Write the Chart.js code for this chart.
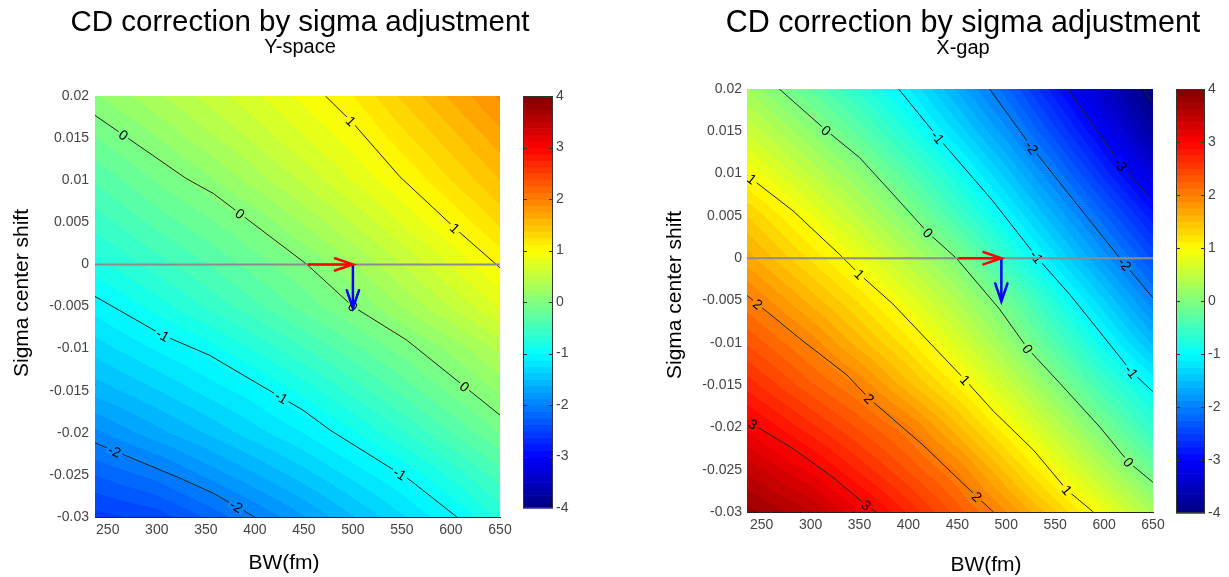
<!DOCTYPE html>
<html>
<head>
<meta charset="utf-8">
<title>CD correction by sigma adjustment</title>
<script src="https://cdn.jsdelivr.net/npm/chart.js@4.4.1/dist/chart.umd.min.js"></script>
<style>
  body { margin: 0; background: #fff; width: 1229px; height: 577px; overflow: hidden; position: relative; }
  canvas { position: absolute; }
</style>
</head>
<body>
<canvas id="ySpace" width="560" height="577" style="left:0;top:0"></canvas>
<canvas id="xGap" width="589" height="577" style="left:640px;top:0"></canvas>
<canvas id="ySpaceBar" width="80" height="450" style="left:505px;top:80px"></canvas>
<canvas id="xGapBar" width="71" height="460" style="left:1158px;top:73px"></canvas>
<script>
Chart.defaults.font.family = "'Liberation Sans', Arial, sans-serif";
Chart.defaults.color = '#444';
Chart.defaults.animation = false;

// axis ticks
const bwTicks = [250, 300, 350, 400, 450, 500, 550, 600, 650];
const shiftTicks = [-0.03, -0.025, -0.02, -0.015, -0.01, -0.005, 0, 0.005, 0.01, 0.015, 0.02];
const colorTicks = [-4, -3, -2, -1, 0, 1, 2, 3, 4];
const ySpaceBW = [237, 650];
const xGapBW = [235, 650];

// CD correction, rows = shiftGrid, columns = bwGrid
const bwGrid = [237, 300, 350, 400, 450, 500, 550, 600, 650];
const shiftGrid = [0.02, 0.015, 0.01, 0.005, 0, -0.005, -0.01, -0.015, -0.02, -0.025, -0.03];

const ySpaceField = [
  [0.11, 0.35, 0.54, 0.73, 0.92, 1.12, 1.40, 1.65, 1.90],
  [-0.14, 0.12, 0.33, 0.53, 0.74, 0.94, 1.20, 1.45, 1.70],
  [-0.36, -0.11, 0.08, 0.31, 0.53, 0.76, 0.99, 1.25, 1.50],
  [-0.57, -0.33, -0.16, 0.02, 0.27, 0.51, 0.76, 1.01, 1.28],
  [-0.80, -0.56, -0.38, -0.19, -0.01, 0.24, 0.50, 0.76, 1.02],
  [-1.07, -0.82, -0.61, -0.41, -0.20, 0.00, 0.26, 0.51, 0.77],
  [-1.32, -1.11, -0.95, -0.73, -0.51, -0.29, -0.07, 0.16, 0.41],
  [-1.58, -1.38, -1.21, -1.05, -0.83, -0.58, -0.34, -0.09, 0.15],
  [-1.91, -1.67, -1.49, -1.30, -1.12, -0.90, -0.64, -0.38, -0.12],
  [-2.25, -2.07, -1.85, -1.64, -1.43, -1.21, -1.00, -0.72, -0.43],
  [-2.55, -2.45, -2.24, -2.00, -1.76, -1.51, -1.27, -1.03, -0.72]
];

const xGapField = [
  [0.24, -0.26, -0.67, -1.11, -1.65, -2.21, -2.84, -3.46, -4.05],
  [0.59, 0.12, -0.30, -0.77, -1.28, -1.84, -2.46, -3.09, -3.73],
  [0.97, 0.49, 0.11, -0.35, -0.85, -1.43, -2.04, -2.68, -3.30],
  [1.37, 0.89, 0.46, 0.03, -0.49, -1.03, -1.62, -2.22, -2.83],
  [1.67, 1.23, 0.86, 0.42, -0.01, -0.61, -1.21, -1.81, -2.40],
  [2.03, 1.58, 1.22, 0.82, 0.36, -0.13, -0.75, -1.36, -1.98],
  [2.35, 1.96, 1.56, 1.17, 0.71, 0.19, -0.37, -0.95, -1.53],
  [2.69, 2.28, 1.98, 1.54, 1.11, 0.59, 0.05, -0.52, -1.00],
  [3.07, 2.67, 2.35, 2.03, 1.54, 1.03, 0.48, -0.08, -0.63],
  [3.45, 3.09, 2.72, 2.36, 1.99, 1.46, 0.93, 0.38, -0.16],
  [3.80, 3.52, 3.14, 2.73, 2.32, 1.88, 1.39, 0.88, 0.33]
];

// contour lines, [BW, sigma shift]
const ySpace1 = [[472, 0.02], [500, 0.0168], [548, 0.0104], [606, 0.0041], [650, -0.0004]];
const ySpace0 = [[237, 0.0177], [330, 0.0102], [358, 0.0084], [453, 0], [500, -0.005], [555, -0.009], [650, -0.0179]];
const ySpaceM1 = [[237, -0.0038], [306, -0.0084], [354, -0.0108], [402, -0.0141], [449, -0.0173], [477, -0.0197], [558, -0.0256], [606, -0.03]];
const ySpaceM2 = [[237, -0.0212], [324, -0.0254], [358, -0.0272], [400, -0.03]];

const xGap3 = [[235, -0.0192], [282, -0.0225], [323, -0.0259], [357, -0.0292], [367, -0.03]];
const xGap2 = [[235, -0.0044], [289, -0.0095], [337, -0.0138], [360, -0.0166], [415, -0.0221], [470, -0.0282], [487, -0.03]];
const xGap1 = [[235, 0.0098], [282, 0.0056], [330, 0.0004], [350, -0.0019], [384, -0.0054], [458, -0.0144], [487, -0.0181], [528, -0.0227], [562, -0.0274], [589, -0.03]];
const xGap0 = [[268, 0.02], [316, 0.0151], [350, 0.0119], [384, 0.0076], [420, 0.003], [449, 0], [493, -0.006], [522, -0.0107], [555, -0.0148], [596, -0.02], [625, -0.0241], [650, -0.0265]];
const xGapM1 = [[390, 0.02], [430, 0.0143], [486, 0.0068], [532, 0], [565, -0.0043], [599, -0.0092], [628, -0.0134], [650, -0.0158]];
const xGapM2 = [[483, 0.02], [526, 0.0131], [572, 0.0064], [616, 0], [650, -0.0047]];
const xGapM3 = [[563, 0.02], [618, 0.0109], [650, 0.0068]];
const xGapM4 = [[640, 0.02], [650, 0.0183]];

// where the inline level labels sit (BW)
const ySpace1Labels = [498, 604];
const ySpace0Labels = [266, 385, 500, 614];
const ySpaceM1Labels = [306, 427, 548];
const ySpaceM2Labels = [257, 381];
const xGap3Labels = [241, 357];
const xGap2Labels = [246, 360, 470];
const xGap1Labels = [240, 350, 458, 562];
const xGap0Labels = [316, 420, 522, 625];
const xGapM1Labels = [430, 531, 628];
const xGapM2Labels = [526, 621];
const xGapM3Labels = [617];

// the two arrows
const ySpaceShift = [[454, 0], [500, 0]];
const ySpaceDrop = [[500, 0], [500, -0.0052]];
const xGapShift = [[451, 0], [495, 0]];
const xGapDrop = [[495, 0], [495, -0.0051]];

function jet(v) {
  let k = Math.floor((v + 4) / 8 * 64);
  k = Math.max(0, Math.min(63, k));
  const t = (k + 0.5) / 64;
  const c = d => Math.round(255 * Math.max(0, Math.min(1, 1.5 - Math.abs(4 * t - d))));
  return [c(3), c(2), c(1)];
}

function locate(arr, v) {
  const n = arr.length;
  for (let i = 0; i < n - 1; i++) {
    const a = arr[i], b = arr[i + 1];
    if ((v - a) * (v - b) <= 0) return [i, (v - a) / (b - a)];
  }
  const up = arr[n - 1] > arr[0];
  if ((v < arr[0]) === up) return [0, 0];
  return [n - 2, 1];
}

function sample(field, bw, s) {
  const [i, fx] = locate(bwGrid, bw);
  const [j, fy] = locate(shiftGrid, s);
  const a = field[j][i], b = field[j][i + 1], c = field[j + 1][i], d = field[j + 1][i + 1];
  return (a * (1 - fx) + b * fx) * (1 - fy) + (c * (1 - fx) + d * fx) * fy;
}

const rgb = c => 'rgb(' + c.join(',') + ')';

function heatmap(field) {
  return {
    id: 'heatmap',
    beforeDatasetsDraw(chart) {
      const {ctx, chartArea: a, scales: {x, y}} = chart;
      const w = Math.round(a.right - a.left), h = Math.round(a.bottom - a.top);
      const off = document.createElement('canvas');
      off.width = w; off.height = h;
      const octx = off.getContext('2d');
      const img = octx.createImageData(w, h);
      for (let j = 0; j < h; j++) {
        const s = y.getValueForPixel(a.top + j + 0.5);
        for (let i = 0; i < w; i++) {
          const c = jet(sample(field, x.getValueForPixel(a.left + i + 0.5), s));
          const p = (j * w + i) * 4;
          img.data[p] = c[0]; img.data[p + 1] = c[1]; img.data[p + 2] = c[2]; img.data[p + 3] = 255;
        }
      }
      octx.putImageData(img, 0, 0);
      ctx.drawImage(off, a.left, a.top, a.right - a.left, a.bottom - a.top);
    }
  };
}

// level labels on the contour lines and heads on the arrows
function overlays(field) {
  return {
    id: 'overlays',
    afterDatasetDraw(chart, args) {
      const ds = chart.data.datasets[args.index];
      const {ctx, chartArea: a, scales: {x, y}} = chart;
      const px = p => [x.getPixelForValue(p.x), y.getPixelForValue(p.y)];
      ctx.save();
      if (ds.arrow) {
        const n = ds.data.length;
        const [x1, y1] = px(ds.data[n - 2]), [x2, y2] = px(ds.data[n - 1]);
        const ang = Math.atan2(y2 - y1, x2 - x1);
        ctx.strokeStyle = ds.borderColor;
        ctx.lineWidth = ds.borderWidth;
        ctx.lineCap = 'round';
        ctx.beginPath();
        ctx.moveTo(x2 - 19 * Math.cos(ang - 0.33), y2 - 19 * Math.sin(ang - 0.33));
        ctx.lineTo(x2, y2);
        ctx.lineTo(x2 - 19 * Math.cos(ang + 0.33), y2 - 19 * Math.sin(ang + 0.33));
        ctx.stroke();
      }
      if (ds.labelAt) {
        ctx.beginPath();
        ctx.rect(a.left, a.top, a.right - a.left, a.bottom - a.top);
        ctx.clip();
        ctx.font = "14px 'Liberation Sans', Arial, sans-serif";
        ctx.textAlign = 'center';
        ctx.textBaseline = 'middle';
        const pts = ds.data;
        ds.labelAt.forEach(bw => {
          for (let k = 0; k < pts.length - 1; k++) {
            if (bw < pts[k].x || bw > pts[k + 1].x) continue;
            const f = (bw - pts[k].x) / (pts[k + 1].x - pts[k].x);
            const s = pts[k].y + f * (pts[k + 1].y - pts[k].y);
            const [ax, ay] = px(pts[k]), [bx, by] = px(pts[k + 1]);
            const text = String(ds.level);
            ctx.save();
            ctx.translate(x.getPixelForValue(bw), y.getPixelForValue(s));
            ctx.rotate(Math.atan2(by - ay, bx - ax));
            const tw = ctx.measureText(text).width;
            ctx.fillStyle = rgb(jet(sample(field, bw, s)));
            ctx.fillRect(-tw / 2 - 2, -5, tw + 4, 10);
            ctx.fillStyle = '#000';
            ctx.fillText(text, 0, 1);
            ctx.restore();
            break;
          }
        });
      }
      ctx.restore();
    }
  };
}

// the title block is laid out over the whole canvas, then moved over the plot
function nudge(dx) {
  return {
    id: 'nudge',
    afterLayout(chart) {
      chart.boxes.forEach(b => {
        if (b.options && typeof b.options.text === 'string') { b.left += dx; b.right += dx; }
      });
    }
  };
}

function captions(c) {
  return {
    id: 'captions',
    afterDraw(chart) {
      const {ctx, chartArea: a} = chart;
      ctx.save();
      ctx.fillStyle = '#000';
      ctx.font = "21px 'Liberation Sans', Arial, sans-serif";
      ctx.textAlign = 'center';
      ctx.textBaseline = 'middle';
      ctx.fillText(c.xText, (a.left + a.right) / 2 + c.xShift, c.xTop);
      ctx.translate(c.yLeft, (a.top + a.bottom) / 2 + c.yShift);
      ctx.rotate(-Math.PI / 2);
      ctx.fillText(c.yText, 0, 0);
      ctx.restore();
    }
  };
}

const pts = arr => arr.map(p => ({x: p[0], y: p[1]}));

function contour(line, level, labels) {
  return { data: pts(line), level: level, labelAt: labels, showLine: true,
           borderColor: '#222', borderWidth: 1, pointRadius: 0 };
}

function arrow(line, color) {
  return { data: pts(line), arrow: true, showLine: true, borderColor: color,
           borderWidth: 2.5, pointRadius: 0 };
}

function plot(id, o) {
  new Chart(id, {
    type: 'scatter',
    data: {
      datasets: [
        arrow(o.shift, '#ff0000'),
        arrow(o.drop, '#0000ff'),
        { data: pts([[o.bw[0], 0], [o.bw[1], 0]]), showLine: true, borderColor: '#8c8c8c',
          borderWidth: 2, pointRadius: 0 },
        ...o.contours
      ]
    },
    options: {
      responsive: false,
      events: [],
      layout: { padding: { left: 0, right: o.padRight, top: 0, bottom: 0 } },
      plugins: {
        legend: { display: false },
        tooltip: { enabled: false },
        title: { display: true, text: 'CD correction by sigma adjustment', fullSize: true, color: '#000',
                 font: { size: o.titleSize, weight: 'normal', lineHeight: 1 }, padding: { top: o.titleTop, bottom: 0 } },
        subtitle: { display: true, text: o.subtitle, fullSize: true, color: '#000',
                    font: { size: 20, lineHeight: 1 }, padding: { top: 0, bottom: o.subGap } }
      },
      scales: {
        x: {
          type: 'linear', min: o.bw[0], max: o.bw[1],
          afterBuildTicks: s => { s.ticks = bwTicks.map(v => ({ value: v })); },
          afterFit: s => { s.height = o.xAxisH; },
          grid: { display: false, drawTicks: false },
          border: { display: true, color: '#222', width: 1, z: 1 },
          ticks: { padding: 5, color: '#444', font: { size: 14 }, maxRotation: 0, autoSkip: false, callback: v => String(v) }
        },
        y: {
          type: 'linear', min: -0.03, max: 0.02,
          afterBuildTicks: s => { s.ticks = shiftTicks.map(v => ({ value: v })); },
          afterFit: s => { s.width = o.yAxisW; },
          grid: { display: false, drawTicks: false },
          border: { display: false },
          ticks: { padding: o.yPad, color: '#444', font: { size: 14 }, autoSkip: false, callback: v => String(v) }
        }
      }
    },
    plugins: [heatmap(o.field), overlays(o.field), nudge(o.nudge), captions(o.captions)]
  });
}

function colorbar(id, o) {
  new Chart(id, {
    type: 'scatter',
    data: { datasets: [] },
    options: {
      responsive: false,
      events: [],
      layout: { padding: o.pad },
      plugins: { legend: { display: false }, tooltip: { enabled: false } },
      scales: {
        x: { display: false, min: 0, max: 1 },
        y: {
          position: 'right', min: -4, max: 4,
          afterBuildTicks: s => { s.ticks = colorTicks.map(v => ({ value: v })); },
          afterFit: s => { s.width = o.axisW; },
          grid: { display: false, drawTicks: false },
          border: { display: false },
          ticks: { padding: 3, color: '#444', font: { size: 14 }, callback: v => String(v) }
        }
      }
    },
    plugins: [{
      id: 'bands',
      afterDraw(chart) {
        const {ctx, chartArea: a, scales: {y}} = chart;
        ctx.save();
        for (let k = 0; k < 64; k++) {
          const lo = -4 + k / 8;
          const y1 = y.getPixelForValue(lo), y2 = y.getPixelForValue(lo + 1 / 8);
          ctx.fillStyle = rgb(jet(lo + 1 / 16));
          ctx.fillRect(a.left, y2, a.right - a.left, y1 - y2 + 0.6);
        }
        ctx.strokeStyle = '#333';
        ctx.lineWidth = 1;
        ctx.strokeRect(a.left + 0.5, a.top + 0.5, a.right - a.left - 1, a.bottom - a.top - 1);
        colorTicks.slice(1, -1).forEach(v => {
          const ty = Math.round(y.getPixelForValue(v)) + 0.5;
          ctx.beginPath();
          ctx.moveTo(a.left, ty); ctx.lineTo(a.left + 4, ty);
          ctx.moveTo(a.right, ty); ctx.lineTo(a.right - 4, ty);
          ctx.stroke();
        });
        ctx.restore();
      }
    }]
  });
}

plot('ySpace', {
  subtitle: 'Y-space', field: ySpaceField, bw: ySpaceBW,
  shift: ySpaceShift, drop: ySpaceDrop,
  contours: [
    contour(ySpace1, 1, ySpace1Labels),
    contour(ySpace0, 0, ySpace0Labels),
    contour(ySpaceM1, -1, ySpaceM1Labels),
    contour(ySpaceM2, -2, ySpaceM2Labels)
  ],
  padRight: 60, xAxisH: 60, yAxisW: 95, yPad: 6,
  titleSize: 29.5, titleTop: 8, subGap: 38.5, nudge: 50,
  captions: { xText: 'BW(fm)', xShift: -13.5, xTop: 563, yText: 'Sigma center shift', yLeft: 22, yShift: -13.5 }
});

plot('xGap', {
  subtitle: 'X-gap', field: xGapField, bw: xGapBW,
  shift: xGapShift, drop: xGapDrop,
  contours: [
    contour(xGap3, 3, xGap3Labels),
    contour(xGap2, 2, xGap2Labels),
    contour(xGap1, 1, xGap1Labels),
    contour(xGap0, 0, xGap0Labels),
    contour(xGapM1, -1, xGapM1Labels),
    contour(xGapM2, -2, xGapM2Labels),
    contour(xGapM3, -3, xGapM3Labels),
    contour(xGapM4, -4, [])
  ],
  padRight: 76, xAxisH: 65, yAxisW: 107, yPad: 5,
  titleSize: 30.5, titleTop: 8, subGap: 30.5, nudge: 66.5,
  captions: { xText: 'BW(fm)', xShift: 36, xTop: 565, yText: 'Sigma center shift', yLeft: 35, yShift: -5.5 }
});

colorbar('ySpaceBar', { pad: { left: 18, right: 0, top: 16, bottom: 22 }, axisW: 32 });
colorbar('xGapBar', { pad: { left: 18, right: 0, top: 16, bottom: 20 }, axisW: 24 });
</script>
</body>
</html>
